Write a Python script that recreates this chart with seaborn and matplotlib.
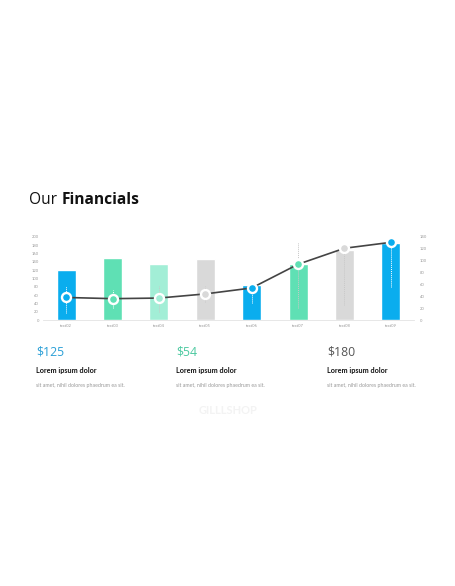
import matplotlib
matplotlib.use("Agg")
import matplotlib.pyplot as plt
import seaborn as sns
import pandas as pd
import numpy as np

categories = ["text02", "text03", "text04", "text05", "text06", "text07", "text08", "text09"]
bar_values = [120, 150, 135, 148, 84, 135, 168, 185]
line_values = [38, 36, 37, 44, 54, 94, 121, 131]
whisker_low = [12, 20, 14, 30, 28, 20, 25, 56]
whisker_high = [57, 50, 57, 57, 80, 132, 121, 131]
bar_colors = ["#0AADEE", "#5FE0B4", "#A2EED6", "#D9D9D9", "#0AADEE", "#5FE0B4", "#D9D9D9", "#0AADEE"]
whisker_colors = ["white", "white", "#C8C8C8", "#C8C8C8", "white", "#C8C8C8", "#C8C8C8", "white"]
left_ticks = list(range(0, 201, 20))
right_ticks = list(range(0, 141, 20))

prices = ["$125", "$54", "$180"]
price_colors = ["#2A9FD6", "#4CC9A0", "#555555"]
headings = ["Lorem ipsum dolor"] * 3
bodies = ["sit amet, nihil dolores phaedrum ea sit."] * 3

sns.set_theme(style="white")
plt.rcParams["font.family"] = ["Lato", "DejaVu Sans"]

fig = plt.figure(figsize=(4.56, 5.86), dpi=100)
fig.patch.set_facecolor("white")
ax = fig.add_axes([43 / 456, 1 - 320 / 586, 371 / 456, 83 / 586])

df = pd.DataFrame({"cat": categories, "val": bar_values})
sns.barplot(data=df, x="cat", y="val", hue="cat", palette=bar_colors,
            legend=False, width=0.41, ax=ax, saturation=1)
ax.set_ylim(0, 200)
ax.set_xlim(-0.5, 7.5)
ax.set_yticks(left_ticks)
ax.set_yticklabels([str(t) for t in left_ticks], fontsize=3, color="#999999")
ax.set_xticks(range(len(categories)))
ax.set_xticklabels(categories, fontsize=3, color="#999999")
ax.tick_params(axis="both", length=0, pad=3)
ax.set_xlabel("")
ax.set_ylabel("")
for s in ["top", "right", "left"]:
    ax.spines[s].set_visible(False)
ax.spines["bottom"].set_color("#E3E3E3")
ax.spines["bottom"].set_linewidth(0.6)

ax2 = ax.twinx()
ax2.set_ylim(0, 140)
ax2.set_xlim(-0.5, 7.5)
xs = np.arange(len(categories))
for i in range(len(categories)):
    ax2.vlines(xs[i], whisker_low[i], whisker_high[i], colors=whisker_colors[i],
               linestyles=(0, (1, 1)), linewidth=0.7, zorder=2)
ldf = pd.DataFrame({"x": xs, "y": line_values})
sns.lineplot(data=ldf, x="x", y="y", color="#444444", linewidth=1.2, ax=ax2, zorder=3)
for i in range(len(categories)):
    ax2.scatter(xs[i], line_values[i], s=42, color=bar_colors[i],
                edgecolor="white", linewidth=1.7, zorder=4)
ax2.set_yticks(right_ticks)
ax2.set_yticklabels([str(t) for t in right_ticks], fontsize=3, color="#999999")
ax2.tick_params(axis="y", length=0, pad=4)
ax2.set_xlabel("")
ax2.set_ylabel("")
for s in ["top", "right", "left", "bottom"]:
    ax2.spines[s].set_visible(False)

# Title
title_font = ["Open Sans", "DejaVu Sans"]
fig.text(29 / 456, 1 - 200 / 586, "Our", fontsize=11.2, color="#111111",
         va="center", ha="left", family=title_font)
fig.text(62 / 456, 1 - 200 / 586, "Financials", fontsize=11.2, fontweight="bold",
         color="#111111", va="center", ha="left", family=title_font)

xs_text = [36, 176, 327]
for i in range(3):
    fig.text(xs_text[i] / 456, 1 - 352 / 586, prices[i], fontsize=8.8,
             color=price_colors[i], va="center", ha="left", family=title_font)
    fig.text(xs_text[i] / 456, 1 - 371 / 586, headings[i], fontsize=5.2,
             fontweight="bold", color="#111111", va="center", ha="left")
    fig.text(xs_text[i] / 456, 1 - 385 / 586, bodies[i], fontsize=3.8,
             color="#999999", va="center", ha="left")

fig.text(228 / 456, 1 - 411 / 586, "GILLLSHOP", fontsize=8, fontweight="bold",
         color="#F3F3F3", va="center", ha="center")

fig.savefig("out.png", dpi=100, facecolor="white")
